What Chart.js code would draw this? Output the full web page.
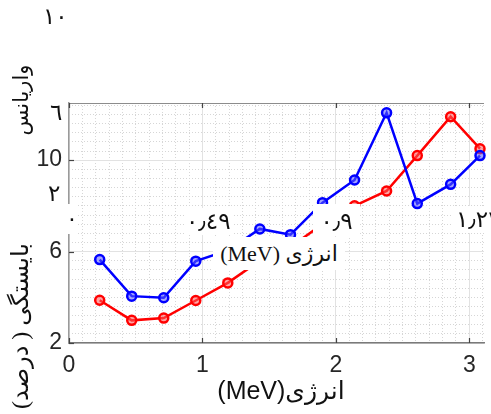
<!DOCTYPE html>
<html><head><meta charset="utf-8">
<script src="https://cdn.jsdelivr.net/npm/chart.js@4/dist/chart.umd.min.js"></script>
<style>
html,body{margin:0;padding:0;background:#fff;}
#wrap{position:relative;width:491px;height:414px;overflow:hidden;background:#fff;}
canvas{position:absolute;left:0;top:0;}
.ov{position:absolute;white-space:nowrap;color:#111;line-height:1;}
.fa{font-family:"Liberation Serif","DejaVu Sans",serif;}
.box{background:#fff;}
</style></head>
<body><div id="wrap"><canvas id="c" width="491" height="414"></canvas>
<div class="ov box" style="left:62px;top:204px;width:16px;height:30px;"></div>
<div class="ov fa" style="left:66px;top:208px;font-size:22px;">٠</div>
<div class="ov fa box" dir="rtl" style="left:184px;top:208px;font-size:23px;padding:2px 2px;">٠٫٤٩</div>
<div class="ov fa box" dir="rtl" style="left:313px;top:204px;width:47px;height:32px;font-size:23px;text-align:center;line-height:36px;">٠٫٩</div>
<div class="ov fa box" dir="ltr" style="left:451px;top:206px;font-size:23px;padding:2px 4px 2px 5px;">١٫٢٢</div>
<div class="ov fa box" dir="rtl" style="left:213px;top:237px;width:132px;height:33px;font-size:22px;text-align:center;line-height:34px;">انرژی (MeV)</div>
<div class="ov fa" dir="rtl" style="left:43px;top:5px;font-size:23px;">١٠</div>
<div class="ov fa" dir="rtl" style="left:50px;top:101px;font-size:23px;">٦</div>
<div class="ov fa" dir="rtl" style="left:48px;top:182px;font-size:23px;">٢</div>
<div class="ov fa" dir="rtl" style="left:21px;top:100px;font-size:21px;transform:translate(-50%,-50%) rotate(-90deg);">واریانس</div>
<div class="ov fa" dir="rtl" style="left:20px;top:326px;font-size:24px;transform:translate(-50%,-50%) rotate(-90deg);">بایستگی ( درصد)</div>
<div class="ov" dir="rtl" style="left:281px;top:390px;font-size:25px;font-family:'Liberation Sans','DejaVu Sans',sans-serif;transform:translate(-50%,-50%);">انرژی(MeV)</div>
</div>
<script>
// ---- data ----
const energy    = [0.23, 0.47, 0.71, 0.95, 1.19, 1.43, 1.66, 1.90, 2.14, 2.38, 2.61, 2.86, 3.08];
const blueVals  = [5.65, 4.05, 3.98, 5.58, 6.05, 6.99, 6.74, 8.14, 9.13, 12.07, 8.10, 8.94, 10.2];
const redVals   = [3.87, 2.99, 3.09, 3.86, 4.63, 5.60, 6.20, 7.20, 8.00, 8.65, 10.2, 11.9, 10.5];
const xTickVals = [0, 1, 2, 3];
const yTickVals = [2, 6, 10];

const tickFont = {family:"'Liberation Sans', Arial, sans-serif", size:23};

const inwardTicks = {
  id:'inwardTicks',
  afterDraw(chart){
    const {ctx, chartArea:a, scales:{x, y}} = chart;
    ctx.save();
    ctx.strokeStyle = '#8c8c8c'; ctx.lineWidth = 1.2;
    ctx.beginPath(); ctx.moveTo(a.left, a.top+0.5); ctx.lineTo(a.right, a.top+0.5); ctx.stroke();
    ctx.strokeStyle = '#444';
    xTickVals.forEach(v=>{
      const px = Math.round(x.getPixelForValue(v))+0.5;
      ctx.beginPath(); ctx.moveTo(px, a.top); ctx.lineTo(px, a.top+5); ctx.stroke();
      ctx.beginPath(); ctx.moveTo(px, a.bottom); ctx.lineTo(px, a.bottom-5); ctx.stroke();
    });
    yTickVals.forEach(v=>{
      const py = Math.round(y.getPixelForValue(v))+0.5;
      ctx.beginPath(); ctx.moveTo(a.left, py); ctx.lineTo(a.left+5, py); ctx.stroke();
    });
    ctx.restore();
  }
};

new Chart(document.getElementById('c'), {
  type:'line',
  data:{datasets:[
    {data: energy.map((e,i)=>({x:e, y:blueVals[i]})), borderColor:'#0000ff', backgroundColor:'rgba(90,90,255,0.55)',
     borderWidth:2.5, pointRadius:4.5, pointBorderWidth:2.5, pointBorderColor:'#0000ff', tension:0},
    {data: energy.map((e,i)=>({x:e, y:redVals[i]})), borderColor:'#ff0000', backgroundColor:'rgba(255,90,90,0.55)',
     borderWidth:2.5, pointRadius:4.5, pointBorderWidth:2.5, pointBorderColor:'#ff0000', tension:0}
  ]},
  options:{
    animation:false, responsive:false, clip:false,
    layout:{padding:{top:103, right:0, left:0, bottom:0}},
    plugins:{legend:{display:false}, tooltip:{enabled:false}},
    scales:{
      xm:{type:'linear', position:'bottom', min:0, max:3.11,
          ticks:{display:false, stepSize:0.1, includeBounds:false},
          grid:{color:'#d6d6d6', lineWidth:1, drawTicks:false},
          border:{display:false, dash:[1,2]},
          afterFit:s=>{s.height=0;}},
      ym:{type:'linear', position:'left', min:2, max:12.5,
          ticks:{display:false, stepSize:0.4, includeBounds:false},
          grid:{color:'#d6d6d6', lineWidth:1, drawTicks:false},
          border:{display:false, dash:[1,2]},
          afterFit:s=>{s.width=0;}},
      x:{type:'linear', position:'bottom', min:0, max:3.11,
         afterBuildTicks:s=>{s.ticks = xTickVals.map(v=>({value:v}));},
         ticks:{font:tickFont, color:'#262626', padding:9, maxRotation:0, callback:v=>String(v)},
         grid:{color:'#e2e2e2', lineWidth:1, drawTicks:false},
         border:{display:true, color:'#7a7a7a', width:1.5},
         afterFit:s=>{s.height=71;}},
      y:{type:'linear', position:'left', min:2, max:12.5,
         afterBuildTicks:s=>{s.ticks = yTickVals.map(v=>({value:v}));},
         ticks:{font:tickFont, color:'#262626', padding:7, callback:v=>String(v)},
         grid:{color:'#e2e2e2', lineWidth:1, drawTicks:false},
         border:{display:true, color:'#9a9a9a', width:1.5},
         afterFit:s=>{s.width=69;}}
    }
  },
  plugins:[inwardTicks]
});
</script></body></html>
